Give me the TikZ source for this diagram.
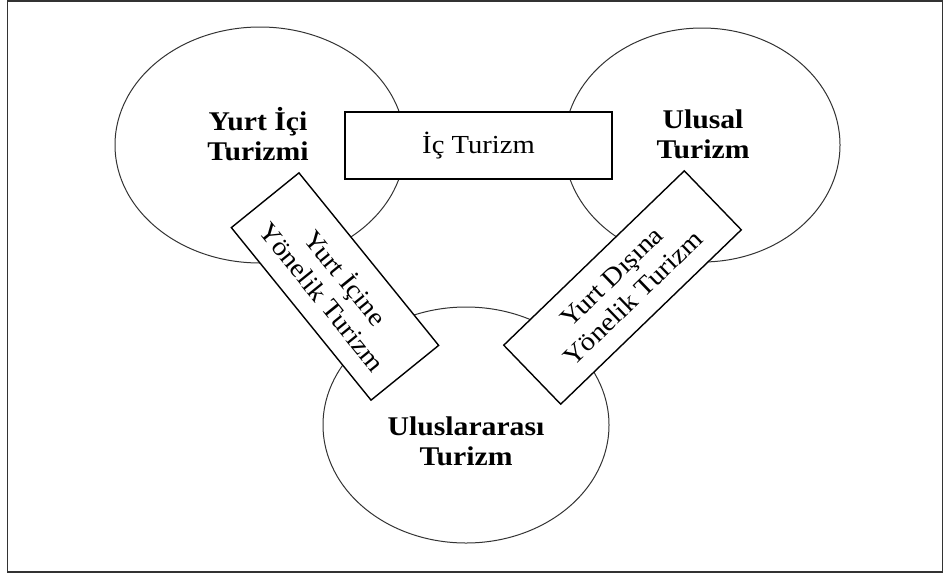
\documentclass[tikz,border=0pt]{standalone}
\usepackage{fontspec}
\setmainfont{Liberation Serif}[FakeStretch=1.1]
\begin{document}
\begin{tikzpicture}[x=1pt,y=-1pt,
  field/.style={draw=black!80, line width=1pt, fill=white},
  fieldlabel/.style={font=\fontsize{27}{30}\selectfont\bfseries, align=center, inner sep=0pt},
  flowbox/.style={draw=black, line width=1.4pt, fill=white, rectangle, inner sep=0pt,
    align=center, font=\fontsize{26}{30}\selectfont}]
  \useasboundingbox (0,0) rectangle (944,576);
  \draw[line width=1.5pt, black!80] (7.5,1) rectangle (942.5,572);

  % three tourism fields
  \draw[field] (260,145) ellipse [x radius=145, y radius=118];
  \draw[field] (702,145) ellipse [x radius=138, y radius=117];
  \draw[field] (466,425) ellipse [x radius=143, y radius=118];

  \node[fieldlabel] (yic) at (258,134) {Yurt İçi\\Turizmi};
  \node[fieldlabel] (ulu) at (703,134) {Ulusal\\Turizm};
  \node[fieldlabel] (int) at (466,441) {Uluslararası\\Turizm};

  % overlapping flows
  \node[flowbox, minimum width=267pt, minimum height=67pt] (ic) at (478.5,145.5) {İç Turizm};
  \node[flowbox, minimum width=222pt, minimum height=87pt, rotate=-51] (ine) at (335,286.5)
    {Yurt İçine\\Yönelik Turizm};
  \node[flowbox, minimum width=251pt, minimum height=82pt, rotate=44] (dis) at (622.5,287.5)
    {Yurt Dışına\\Yönelik Turizm};
\end{tikzpicture}
\end{document}
